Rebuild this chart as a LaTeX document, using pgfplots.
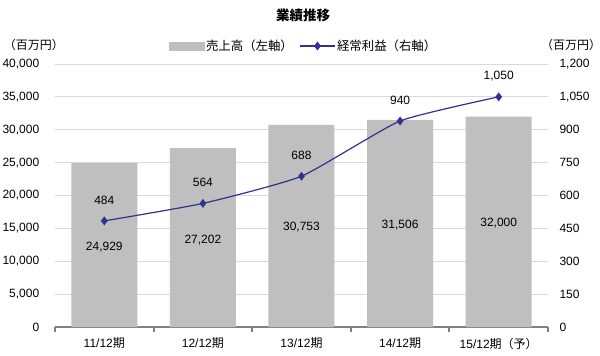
\documentclass[border=0pt]{standalone}
\usepackage{fontspec}
\setmainfont{Liberation Sans}
\newfontfamily\cjk{Noto Sans CJK JP}
\usepackage{pgfplots}
\pgfplotsset{compat=1.18}
\definecolor{barc}{RGB}{191,191,191}
\definecolor{linec}{RGB}{49,49,145}
\definecolor{gridc}{RGB}{217,217,217}
\definecolor{axc}{RGB}{128,128,128}
\pgfplotsset{mylinelegend/.style={legend image code/.code={\draw[mark repeat=2,mark phase=2,##1] plot coordinates {(0bp,0bp) (17bp,0bp) (34bp,0bp)};}},
 mybarlegend/.style={legend image code/.code={\fill[barc] (0bp,-4bp) rectangle (35bp,4bp);}}}
\begin{document}
\begin{tikzpicture}
\path[use as bounding box] (-55bp,-29bp) rectangle (545bp,327bp);
\pgfplotsset{
 every axis/.append style={scale only axis, width=493bp, height=263bp, xmin=-0.5, xmax=4.5,
   /pgf/number format/assume math mode=true,
   tick label style={font=\fontsize{12bp}{14bp}\selectfont},
   scaled y ticks=false},
}
\begin{axis}[
 ymin=0, ymax=40000, ytick={0,5000,...,40000},
 axis x line*=bottom, axis y line*=left,
 y axis line style={draw=none},
 x axis line style={draw=axc, line width=2bp},
 ymajorgrids, grid style={gridc, line width=0.8bp},
 major y tick style={draw=none},
 xtick={0,1,2,3,4}, major x tick style={draw=none},
 xticklabels={11/12{\cjk 期}, 12/12{\cjk 期}, 13/12{\cjk 期}, 14/12{\cjk 期}, 15/12{\cjk 期（予）}},
 minor xtick={-0.5,0.5,1.5,2.5,3.5,4.5},
 minor x tick style={draw=axc, line width=2bp},
 minor tick length=5bp,
 tick align=outside,
 xticklabel style={yshift=-3bp},
 yticklabel style={xshift=-8bp},
]
\addplot[ybar, bar width=66bp, fill=barc, draw=none] coordinates {(0,24929) (1,27202) (2,30753) (3,31506) (4,32000)};
\addplot[draw=none, mark=none, nodes near coords, point meta=explicit symbolic,
  nodes near coords style={anchor=center, text=black, font=\fontsize{12bp}{14bp}\selectfont}]
  table[meta=lab] {
x y lab
0 12213 24,929
1 13232 27,202
2 15255 30,753
3 15513 31,506
4 15817 32,000
};
\end{axis}
\begin{axis}[
 ymin=0, ymax=1200, ytick={0,150,...,1200},
 axis x line=none, axis y line*=right,
 y axis line style={draw=none}, major y tick style={draw=none},
 yticklabel style={xshift=8bp},
 legend columns=2,
 legend style={at={(0.504,1.0684)}, anchor=center, draw=none, fill=none, inner sep=0pt,
   font=\cjk\fontsize{12.4bp}{14bp}\selectfont,
   /tikz/every even column/.append style={column sep=5bp}},
]
\addlegendimage{mybarlegend}
\addlegendentry{売上高（左軸）}
\addplot[linec, line width=1.2bp, mark=diamond*, mark size=3.5bp, mark options={fill=linec},
  smooth, tension=0.3,
  nodes near coords, nodes near coords style={anchor=center, yshift=21bp, text=black, font=\fontsize{12bp}{14bp}\selectfont},
  mylinelegend]
  coordinates {(0,484) (1,564) (2,688) (3,940) (4,1050)};
\addlegendentry{経常利益（右軸）}
\end{axis}
\node[font=\cjk\bfseries\fontsize{13.5bp}{16bp}\selectfont] at (248bp,312bp) {業績推移};
\node[font=\cjk\fontsize{12bp}{14bp}\selectfont] at (-21bp,282bp) {（百万円）};
\node[font=\cjk\fontsize{12bp}{14bp}\selectfont] at (516bp,282bp) {（百万円）};
\end{tikzpicture}
\end{document}
